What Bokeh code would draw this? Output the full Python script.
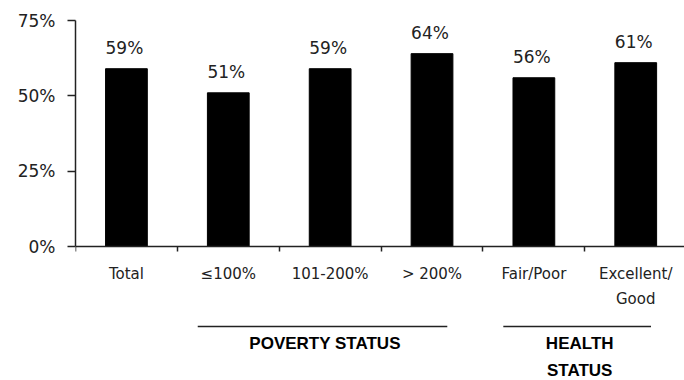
import numpy as np
from bokeh.plotting import figure
from bokeh.models import ColumnDataSource, Range1d, FixedTicker, LabelSet, LinearAxis
from bokeh.core.properties import value
from bokeh.embed import file_html
from bokeh.resources import INLINE

# Share of each group (percent)
categories = ["Total", "≤100%", "101-200%", "> 200%", "Fair/Poor", "Excellent/\nGood"]
shares = [59, 51, 59, 64, 56, 61]

y_ticks = [0, 25, 50, 75]
y_tick_labels = ["0%", "25%", "50%", "75%"]

# Bracket groups under the category axis (first / last category index)
group_names = ["POVERTY STATUS", "HEALTH\nSTATUS"]
group_first = [1, 4]
group_last = [3, 5]

# ---- layout helpers -------------------------------------------------------
W, H = 684, 380
LEFT = 75                 # frame starts here (y axis line)
PX_PER_UNIT = 226 / 75    # vertical pixels per percentage point
ZERO_PX = 246             # pixel row of the 0% baseline
SLOT_PX = 101.86          # width of one category slot

def py(px):
    """pixel row -> data y"""
    return (ZERO_PX - px) / PX_PER_UNIT

y_top = py(0)
y_bottom = py(H)
x_end = (W - LEFT) / SLOT_PX

INK = "#222222"
FONT = "DejaVu Sans"

p = figure(width=W, height=H, output_backend="svg", toolbar_location=None,
           x_range=Range1d(0, x_end), y_range=Range1d(y_bottom, y_top),
           x_axis_location=None, y_axis_location=None,
           min_border_left=LEFT, min_border_right=0,
           min_border_top=0, min_border_bottom=0)
p.outline_line_color = None
p.background_fill_color = "white"
for g in p.grid:
    g.visible = False

centers = np.arange(len(categories)) + 0.5

# ---- axes -----------------------------------------------------------------
xaxis = LinearAxis(
    fixed_location=0,
    ticker=FixedTicker(ticks=[float(c) for c in centers],
                       minor_ticks=[float(i) for i in range(len(categories) + 1)]),
    major_label_overrides={float(c): lab for c, lab in zip(centers, categories)},
    major_tick_line_color=None, major_tick_in=0, major_tick_out=0,
    minor_tick_in=0, minor_tick_out=5, minor_tick_line_color=INK,
    minor_tick_line_width=1.5,
    axis_line_color=INK, axis_line_width=1.5,
    major_label_standoff=13,
    major_label_text_font=FONT, major_label_text_font_size="15px",
    major_label_text_line_height=1.42, major_label_text_color=INK,
)
p.add_layout(xaxis, "below")

yaxis = LinearAxis(
    bounds=(0, 75),
    ticker=FixedTicker(ticks=y_ticks, minor_ticks=[]),
    major_label_overrides=dict(zip(y_ticks, y_tick_labels)),
    major_tick_in=0, major_tick_out=8, major_tick_line_color=INK,
    major_tick_line_width=1.5,
    minor_tick_line_color=None,
    axis_line_color=INK, axis_line_width=1.5,
    major_label_standoff=12,
    major_label_text_font=FONT, major_label_text_font_size="17px",
    major_label_text_color=INK,
)
p.add_layout(yaxis, "left")

# ---- bars and value labels ------------------------------------------------
src = ColumnDataSource(dict(x=centers, top=shares,
                            label=[f"{v}%" for v in shares]))
p.vbar(x="x", top="top", bottom=0, width=0.41, source=src,
       fill_color="black", line_color="black")

p.add_layout(LabelSet(x="x", y="top", text="label", source=src,
                      x_offset=-2, y_offset=15,
                      text_align="center", text_baseline="alphabetic",
                      text_font=value(FONT), text_font_size="17px",
                      text_color=INK))

# ---- group brackets -------------------------------------------------------
gx0 = [f + 0.2 for f in group_first]
gx1 = [l + 1 - 0.35 for l in group_last]
p.segment(x0=gx0, x1=gx1, y0=[py(326)] * len(gx0), y1=[py(326)] * len(gx0),
          line_color=INK, line_width=1.5)

tx, ty, tt = [], [], []
for name, f, l in zip(group_names, group_first, group_last):
    mid = (f + l + 1) / 2 - 0.05
    for k, line in enumerate(name.split("\n")):
        tx.append(mid)
        ty.append(py(343 + 27 * k))
        tt.append(line)
p.text(x=tx, y=ty, text=tt, text_align="center", text_baseline="middle",
       text_font=value("Liberation Sans"), text_font_style="bold",
       text_font_size="17px", text_color="black")

open("out.html", "w").write(file_html(p, INLINE))
